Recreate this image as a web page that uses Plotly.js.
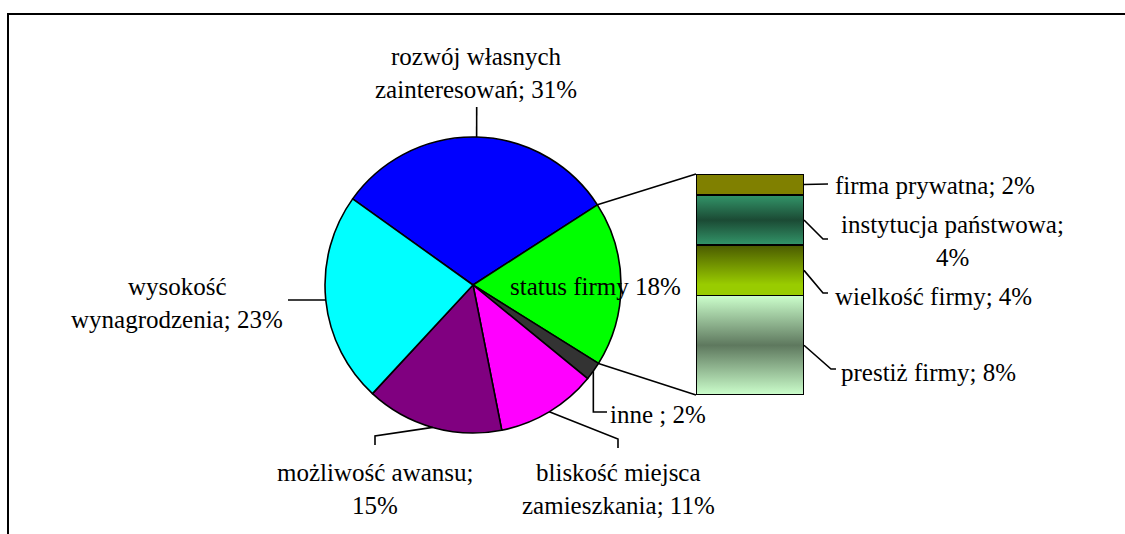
<!DOCTYPE html>
<html><head><meta charset="utf-8">
<script src="https://cdn.plot.ly/plotly-3.0.1.min.js"></script>
<style>html,body{margin:0;padding:0;background:#fff;}#chart{width:1125px;height:534px;}</style>
</head><body><div id="chart"></div>
<script>
// ---------- DATA ----------
const pieLabels = ['rozwój własnych zainteresowań', 'status firmy', 'inne ', 'bliskość miejsca zamieszkania', 'możliwość awansu', 'wysokość wynagrodzenia'];
const pieValues = [31, 18, 2, 11, 15, 23];
const piePct    = ['31%', '18%', '2%', '11%', '15%', '23%'];
const pieColors = ['#0000FF', '#00FF00', '#333333', '#FF00FF', '#800080', '#00FFFF'];

const barLabels = ['firma prywatna', 'instytucja państwowa', 'wielkość firmy', 'prestiż firmy']; // top to bottom
const barValues = [1.7, 4.1, 4.1, 8.1];
const barPct    = ['2%', '4%', '4%', '8%'];
const barColors = ['#808000', null, null, null];
const barGradients = [null,
  [[0, '#33966a'], [0.5, '#1b4a34'], [1, '#33966a']],
  [[0, '#4a5a00'], [0.78, '#99cc00'], [1, '#99cc00']],
  [[0, '#ccffcc'], [0.5, '#5e785e'], [1, '#ccffcc']]
];

// ---------- LAYOUT CONSTANTS (pixels) ----------
const W = 1125, H = 534;
const PIE = {cx: 473, cy: 285, r: 148, rotation: -54.4};
const BAR = {x0: 696, x1: 804, y0: 174, y1: 395};
const FONT = {family: 'Liberation Serif, Times New Roman, serif', size: 25, color: '#000'};
const LINE_H = 33.5;

const X = px => px / W;
const Y = py => 1 - py / H;

// pie geometry from data
const total = pieValues.reduce((a, b) => a + b, 0);
const sliceAngles = [];
{
  let cum = 0;
  pieValues.forEach(v => {
    const a0 = PIE.rotation + 360 * cum / total;
    cum += v;
    const a1 = PIE.rotation + 360 * cum / total;
    sliceAngles.push([a0, a1]);
  });
}
function piePoint(angle) {
  const t = angle * Math.PI / 180;
  return [PIE.cx + PIE.r * Math.sin(t), PIE.cy - PIE.r * Math.cos(t)];
}
const pieMid = i => piePoint((sliceAngles[i][0] + sliceAngles[i][1]) / 2);

// bar geometry from data
const barTotal = barValues.reduce((a, b) => a + b, 0);
const barSegPx = [];
{
  let cum = 0;
  barValues.forEach(v => {
    const top = BAR.y0 + (cum / barTotal) * (BAR.y1 - BAR.y0);
    cum += v;
    const bot = BAR.y0 + (cum / barTotal) * (BAR.y1 - BAR.y0);
    barSegPx.push([top, bot]);
  });
}
const barMid = i => [BAR.x1, (barSegPx[i][0] + barSegPx[i][1]) / 2];

// ---------- TRACES ----------
const traces = [];
traces.push({
  type: 'pie',
  values: pieValues,
  labels: pieLabels,
  sort: false,
  direction: 'clockwise',
  rotation: PIE.rotation,
  textinfo: 'none',
  hoverinfo: 'none',
  marker: {colors: pieColors, line: {color: '#000', width: 1.6}},
  domain: {x: [X(PIE.cx - PIE.r), X(PIE.cx + PIE.r)], y: [Y(PIE.cy + PIE.r), Y(PIE.cy - PIE.r)]}
});
// stacked bar from bottom to top
for (let i = barValues.length - 1; i >= 0; i--) {
  traces.push({
    type: 'bar', x: [0], y: [barValues[i]], width: [1], name: barLabels[i],
    marker: {color: barColors[i] || 'rgba(0,0,0,0)', line: {color: '#000', width: 1.6}},
    hoverinfo: 'skip', xaxis: 'x', yaxis: 'y'
  });
}

// gradient images
function gradSvg(stops) {
  const s = '<svg xmlns="http://www.w3.org/2000/svg" width="10" height="100" viewBox="0 0 10 100" preserveAspectRatio="none">' +
    '<defs><linearGradient id="g" x1="0" y1="0" x2="0" y2="1">' +
    stops.map(s => '<stop offset="' + s[0] + '" stop-color="' + s[1] + '"/>').join('') +
    '</linearGradient></defs><rect x="0" y="0" width="10" height="100" fill="url(#g)"/></svg>';
  return 'data:image/svg+xml;charset=utf-8,' + encodeURIComponent(s);
}
const images = [];
{
  let cum = 0;
  barValues.forEach((v, i) => {
    if (barGradients[i]) {
      images.push({
        source: gradSvg(barGradients[i]), xref: 'x', yref: 'y',
        x: -0.5, y: barTotal - cum, sizex: 1, sizey: v,
        xanchor: 'left', yanchor: 'top', sizing: 'stretch', layer: 'below'
      });
    }
    cum += v;
  });
}

// ---------- LABELS ----------
// label placement: lines split after n words; anchor point (px) of first line
const pieLabelPos = [
  {split: 2, x: 476, y: 56, anchor: 'center', sep: '; '},
  {split: 0, x: 595, y: 286, anchor: 'center', sep: ' '},
  {split: 0, x: 608, y: 414, anchor: 'left', sep: '; '},
  {split: 2, x: 618, y: 472, anchor: 'center', sep: '; '},
  {split: 2, x: 375, y: 472, anchor: 'center', sep: '; '},
  {split: 1, x: 177, y: 286, anchor: 'center', sep: '; '}
];
const barLabelPos = [
  {split: 0, x: 833, y: 186, anchor: 'left'},
  {split: 2, x: 952, y: 224, anchor: 'center'},
  {split: 0, x: 833, y: 296, anchor: 'left'},
  {split: 0, x: 839, y: 372, anchor: 'left'}
];
function splitLines(text, n) {
  if (!n) return [text];
  const w = text.split(' ');
  return [w.slice(0, n).join(' '), w.slice(n).join(' ')];
}
const annotations = [];
function addLabel(text, pos) {
  splitLines(text, pos.split).forEach((ln, k) => {
    annotations.push({
      xref: 'paper', yref: 'paper', x: X(pos.x), y: Y(pos.y + k * LINE_H),
      xanchor: pos.anchor, yanchor: 'middle', showarrow: false, text: ln, font: FONT
    });
  });
}
pieLabels.forEach((l, i) => addLabel(l + pieLabelPos[i].sep + piePct[i], pieLabelPos[i]));
barLabels.forEach((l, i) => addLabel(l + '; ' + barPct[i], barLabelPos[i]));

// ---------- LEADER & CONNECTOR LINES ----------
const shapes = [];
function poly(pts, w) {
  const d = pts.map((p, k) => (k ? 'L' : 'M') + X(p[0]).toFixed(5) + ',' + Y(p[1]).toFixed(5)).join(' ');
  shapes.push({type: 'path', xref: 'paper', yref: 'paper', path: d, line: {color: '#000', width: w || 1.6}});
}
// frame
shapes.push({type: 'rect', xref: 'paper', yref: 'paper', x0: X(8), y0: Y(14), x1: 1.2, y1: -0.2,
  line: {color: '#000', width: 2}, fillcolor: 'rgba(0,0,0,0)'});
// connectors pie -> bar (edges of the "status firmy" slice)
const si = 1;
poly([piePoint(sliceAngles[si][0]), [BAR.x0, BAR.y0]]);
poly([piePoint(sliceAngles[si][1]), [BAR.x0, BAR.y1]]);
// pie leaders
{
  const m0 = pieMid(0); poly([m0, [476.7, 107]]);
  const m5 = pieMid(5); poly([m5, [288, m5[1]]]);
  const m4 = pieMid(4); poly([m4, [375, 436], [375, 445]]);
  const m3 = pieMid(3); poly([m3, [618, 439], [618, 448]]);
  const m2 = pieMid(2); poly([m2, [m2[0], 412], [607, 412]]);
}
// bar leaders
poly([barMid(0), [828, 184]]);
poly([barMid(1), [823, 239], [828, 239]]);
poly([barMid(2), [823, 293], [828, 293]]);
poly([barMid(3), [831, 369], [836, 369]]);

const layout = {
  width: W, height: H, margin: {l: 0, r: 0, t: 0, b: 0, pad: 0},
  paper_bgcolor: '#fff', plot_bgcolor: 'rgba(0,0,0,0)', showlegend: false,
  barmode: 'stack', bargap: 0,
  xaxis: {domain: [X(BAR.x0), X(BAR.x1)], range: [-0.5, 0.5], visible: false, fixedrange: true},
  yaxis: {domain: [Y(BAR.y1), Y(BAR.y0)], range: [0, barTotal], visible: false, fixedrange: true},
  images: images, annotations: annotations, shapes: shapes,
  font: FONT
};
Plotly.newPlot('chart', traces, layout, {staticPlot: true, displayModeBar: false});
</script></body></html>
